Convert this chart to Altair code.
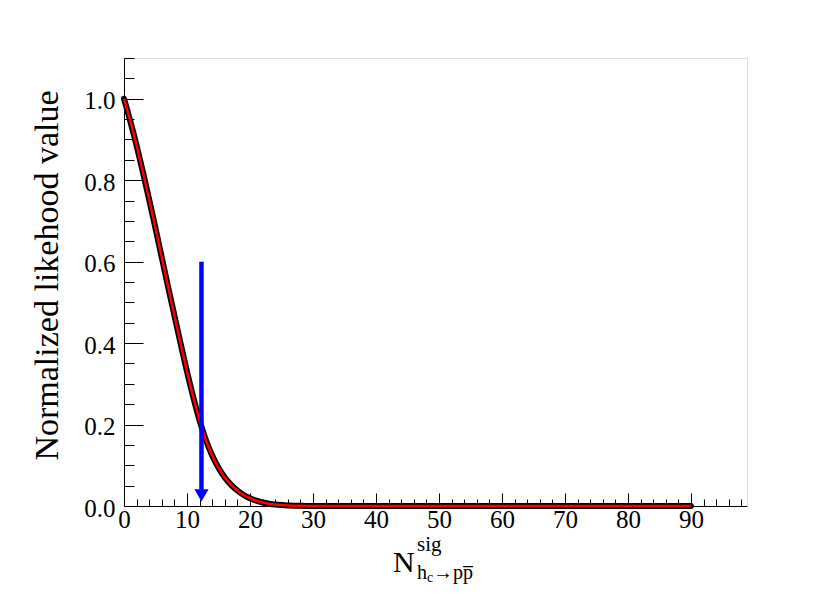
import altair as alt
import pandas as pd

# ---- data ----
x_vals = [0, 1, 2, 3, 4, 5, 6, 7, 8, 9, 10, 11, 12, 13, 14, 15, 16, 17, 18, 19,
          20, 21, 22, 23, 24, 25, 26, 27, 28, 30, 32, 35, 40, 45, 50, 55, 60,
          65, 70, 75, 80, 85, 90]
y_vals = [1.0, 0.945, 0.885, 0.82, 0.752, 0.682, 0.61, 0.538, 0.468, 0.398,
          0.33, 0.267, 0.21, 0.162, 0.124, 0.094, 0.070, 0.052, 0.038, 0.027,
          0.019, 0.013, 0.0085, 0.0055, 0.0035, 0.0022, 0.0013, 0.0008, 0.0005,
          0.0002, 0.0001, 0.0, 0.0, 0.0, 0.0, 0.0, 0.0, 0.0, 0.0, 0.0, 0.0,
          0.0, 0.0]

arrow_x = [12.3]
arrow_top = [0.6]
arrow_bottom = [0.04]
arrow_head = [0.026]

x_label_values = [0, 10, 20, 30, 40, 50, 60, 70, 80, 90]
y_label_values = [0.0, 0.2, 0.4, 0.6, 0.8, 1.0]
x_tick_values = list(range(0, 99, 2))
y_tick_values = [round(i * 0.05, 2) for i in range(0, 23)]

y_title = "Normalized likehood value"
x_title_main = ["N"]
x_title_sup = ["sig"]
x_title_sub = ["h"]
x_title_subsub = ["c"]
x_title_sub2 = ["\u2192pp\u0305"]

# ---- layout ----
W, H = 623, 448
FONT = "Liberation Serif"
xs = alt.Scale(domain=[0, 98.9], nice=False, zero=False)
ys = alt.Scale(domain=[0, 1.1], nice=False, zero=False)

curve = pd.DataFrame({"x": x_vals, "y": y_vals})
arrow = pd.DataFrame({"x": arrow_x, "y": arrow_top, "y2": arrow_bottom, "yh": arrow_head})

black = alt.Chart(curve).mark_line(
    color="black", strokeWidth=6, interpolate="monotone", strokeCap="round"
).encode(
    x=alt.X("x:Q", scale=xs, axis=alt.Axis(
        values=x_label_values, ticks=False, tickSize=0, domain=True,
        domainColor="black", domainWidth=1, labelFont=FONT, labelFontSize=25,
        labelColor="black", labelPadding=1, grid=False, title=None,
        labelFlush=False, labelOverlap=False)),
    y=alt.Y("y:Q", scale=ys, axis=alt.Axis(
        values=y_label_values, format=".1f", ticks=False, tickSize=0,
        domain=True, domainColor="black", domainWidth=1, labelFont=FONT,
        labelFontSize=25, labelColor="black", labelPadding=9, grid=False,
        labelFlush=False, labelOverlap=False, labelBaseline="middle",
        labelOffset=2,
        title=y_title, titleFont=FONT, titleFontSize=34,
        titleFontWeight="normal", titleColor="black", titleAngle=270,
        titleX=-60, titleY=217, titleAlign="center", titleBaseline="bottom")),
)

red = alt.Chart(curve).mark_line(
    color="red", strokeWidth=2.5, interpolate="monotone"
).encode(
    x=alt.X("x:Q", scale=xs, axis=alt.Axis(
        orient="top", offset=-H, values=x_tick_values, labels=False,
        domain=False, grid=False, title=None, tickColor="black", tickWidth=1,
        tickSize={"condition": {"test": "datum.value % 10 === 0", "value": 13}, "value": 7})),
    y=alt.Y("y:Q", scale=ys, axis=alt.Axis(
        orient="right", offset=-W, values=y_tick_values, labels=False,
        domain=False, grid=False, title=None, tickColor="black", tickWidth=1,
        tickSize={"condition": {"test": "abs(datum.value*5 - round(datum.value*5)) < 1e-6", "value": 19}, "value": 10})),
)

rule = alt.Chart(arrow).mark_rule(color="#0000ff", strokeWidth=4.5).encode(
    x=alt.X("x:Q", scale=xs, axis=None),
    y=alt.Y("y:Q", scale=ys, axis=None),
    y2="y2:Q",
)
head = alt.Chart(arrow).mark_point(
    shape="triangle-down", filled=True, size=200, color="#0000ff", opacity=1
).encode(
    x=alt.X("x:Q", scale=xs, axis=None),
    y=alt.Y("yh:Q", scale=ys, axis=None),
)


def label(txt, px, py, size):
    return alt.Chart(pd.DataFrame({"t": txt})).mark_text(
        font=FONT, fontSize=size, align="left", baseline="alphabetic", color="black"
    ).encode(text="t:N", x=alt.value(px), y=alt.value(py))


t1 = label(x_title_main, 269, 514, 30)
t2 = label(x_title_sup, 293, 493, 21)
t3 = label(x_title_sub, 293, 521, 20)
t4 = label(x_title_subsub, 303, 524, 14)
t5 = label(x_title_sub2, 309, 521, 20)

chart = alt.layer(black, red, rule, head, t1, t2, t3, t4, t5).resolve_axis(
    x="independent", y="independent"
).properties(
    width=W, height=H, autosize="none",
    padding={"left": 116, "top": 50, "right": 60, "bottom": 80},
).configure_view(stroke="black", strokeWidth=1).configure(background="white")

chart.save("out.html", embed_options={"renderer": "svg", "actions": False})
